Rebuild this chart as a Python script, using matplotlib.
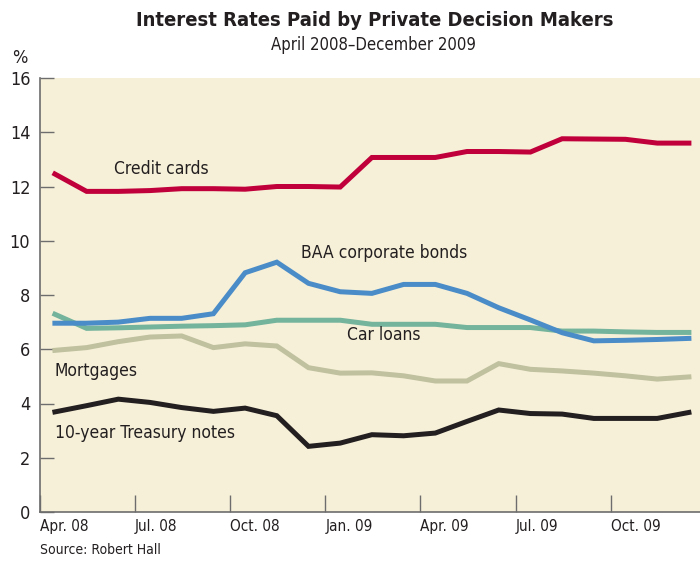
import matplotlib
matplotlib.use("Agg")
import matplotlib.pyplot as plt

# monthly observations, Apr 2008 .. Dec 2009
months = list(range(21))
credit_cards = [12.46, 11.82, 11.82, 11.85, 11.92, 11.92, 11.90, 12.00, 12.00, 11.98,
                13.07, 13.07, 13.07, 13.29, 13.29, 13.27, 13.76, 13.75, 13.74, 13.60, 13.60]
baa_bonds = [6.96, 6.96, 7.00, 7.14, 7.14, 7.31, 8.82, 9.21, 8.43, 8.12,
             8.06, 8.39, 8.39, 8.06, 7.53, 7.08, 6.61, 6.31, 6.33, 6.36, 6.40]
car_loans = [7.29, 6.77, 6.79, 6.82, 6.85, 6.87, 6.90, 7.07, 7.07, 7.07,
             6.92, 6.92, 6.92, 6.80, 6.80, 6.80, 6.67, 6.67, 6.64, 6.62, 6.62]
mortgages = [5.96, 6.06, 6.28, 6.45, 6.49, 6.06, 6.20, 6.12, 5.32, 5.12,
             5.13, 5.02, 4.83, 4.83, 5.47, 5.26, 5.20, 5.12, 5.02, 4.90, 4.98]
treasury = [3.69, 3.92, 4.16, 4.04, 3.85, 3.71, 3.83, 3.55, 2.42, 2.54,
            2.85, 2.81, 2.91, 3.34, 3.76, 3.63, 3.61, 3.45, 3.45, 3.45, 3.67]

tick_labels = ["Apr. 08", "Jul. 08", "Oct. 08", "Jan. 09", "Apr. 09", "Jul. 09", "Oct. 09"]
y_ticks = [0, 2, 4, 6, 8, 10, 12, 14, 16]

# narrow look like the original's condensed face
plt.rcParams["font.family"] = ["DejaVu Sans"]
plt.rcParams["font.stretch"] = "condensed"

fig = plt.figure(figsize=(7, 5.63), dpi=100)
ax = fig.add_axes([40 / 700, 51 / 563, 660 / 700, 434 / 563])
ax.set_facecolor("#f7f0d8")

series = [
    (credit_cards, "#c0003a"),
    (baa_bonds, "#4a8cc8"),
    (car_loans, "#74b39c"),
    (mortgages, "#bfc19f"),
    (treasury, "#231f20"),
]
for i in [3, 2, 1, 4, 0]:
    vals, col = series[i]
    ax.plot(months, vals, color=col, lw=3.6, solid_joinstyle="miter", zorder=3)

ax.set_xlim(-0.47, 20.35)
ax.set_ylim(0, 16)
ax.set_xticks([m - 0.47 for m in range(0, 21, 3)])
ax.set_xticklabels(tick_labels, fontsize=11, color="#231f20", ha="left")
ax.set_yticks(y_ticks)
ax.set_yticklabels([str(v) for v in y_ticks], fontsize=13, color="#231f20")
ax.tick_params(axis="x", direction="in", length=12, width=1, color="#6d6d6d", pad=5)
ax.tick_params(axis="y", direction="in", length=10, width=1, color="#6d6d6d", pad=7)
for s in ["top", "right"]:
    ax.spines[s].set_visible(False)
for s in ["left", "bottom"]:
    ax.spines[s].set_color("#6d6d6d")
    ax.spines[s].set_linewidth(1.2)

lab = dict(fontsize=12.5, color="#231f20", zorder=4)
ax.text(1.85, 12.45, "Credit cards", **lab)
ax.text(7.75, 9.35, "BAA corporate bonds", **lab)
ax.text(9.2, 6.35, "Car loans", **lab)
ax.text(0.0, 5.2, "Mortgages", va="center", **lab)
ax.text(0.0, 2.92, "10-year Treasury notes", va="center", **lab)

fig.text(375 / 700, 1 - 20 / 563, "Interest Rates Paid by Private Decision Makers",
         ha="center", va="center", fontsize=14.5, fontweight="bold", color="#231f20")
fig.text(373 / 700, 1 - 45 / 563, "April 2008\u2013December 2009", ha="center",
         va="center", fontsize=12, color="#231f20")
fig.text(12 / 700, 1 - 58 / 563, "%", ha="left", va="center", fontsize=13, color="#231f20")
fig.text(40 / 700, 1 - 550 / 563, "Source: Robert Hall", ha="left", va="center",
         fontsize=10, color="#231f20")

fig.savefig("out.png", dpi=100, facecolor="white")
